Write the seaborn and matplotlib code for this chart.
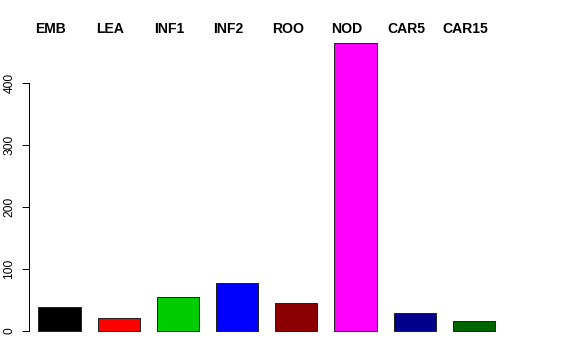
import matplotlib
matplotlib.use("Agg")
import matplotlib.pyplot as plt
import seaborn as sns
import pandas as pd

categories = ["EMB", "LEA", "INF1", "INF2", "ROO", "NOD", "CAR5", "CAR15"]
values = [39, 21, 55, 77, 45, 464, 29, 16]
colors = ["#000000", "#FF0000", "#00CD00", "#0000FF", "#8B0000", "#FF00FF", "#00008B", "#006400"]
yticks = [0, 100, 200, 300, 400]

sns.set_theme(style="white")
plt.rcParams["font.family"] = ["Liberation Sans", "DejaVu Sans"]

df = pd.DataFrame({"cat": categories, "val": values})

fig = plt.figure(figsize=(8, 5), dpi=72)
ax = fig.add_axes([29 / 576, 1 - 342 / 360, (560 - 29) / 576, 311 / 360])

sns.barplot(data=df, x="cat", y="val", hue="cat", palette=colors, order=categories,
            hue_order=categories, legend=False, width=0.715, edgecolor="#222222",
            linewidth=1.0, saturation=1, ax=ax)

ax.set_xlim(-0.515, 8.455)
ax.set_ylim(-17.7, 483.1)
ax.set_xlabel("")
ax.set_ylabel("")
ax.set_xticks([])
ax.set_yticks(yticks)
ax.set_yticklabels([str(t) for t in yticks], rotation=90, va="center", fontsize=12, color="black")
ax.tick_params(axis="y", direction="out", length=7, width=1, color="black", pad=6.5, left=True)
for s in ["top", "right", "bottom"]:
    ax.spines[s].set_visible(False)
ax.spines["left"].set_bounds(0, 400)
ax.spines["left"].set_color("black")
ax.spines["left"].set_linewidth(1)
ax.grid(False)

for i, c in enumerate(categories):
    ax.text(i - 0.144, 486, c, ha="center", va="center", fontsize=14, fontweight="bold",
            color="black", clip_on=False)

fig.savefig("out.png", dpi=72, facecolor="white")
